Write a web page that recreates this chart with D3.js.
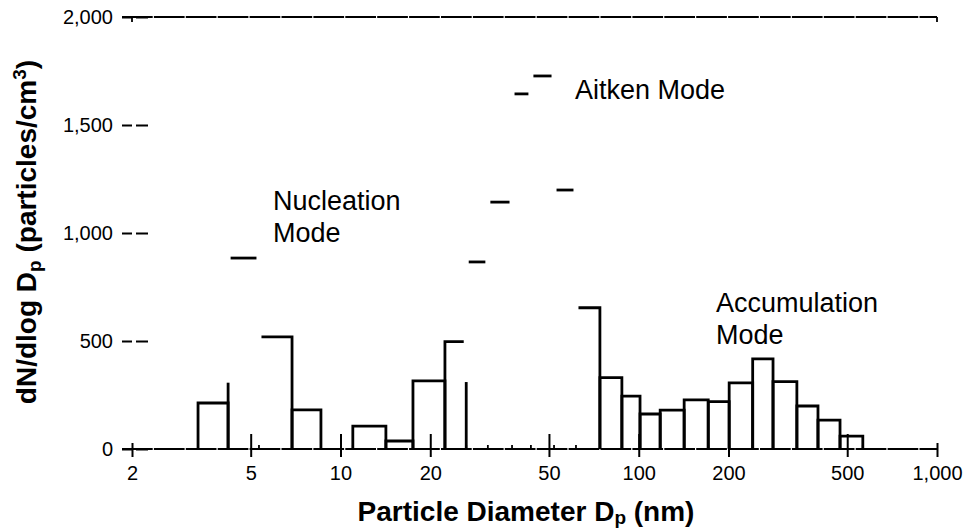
<!DOCTYPE html>
<html><head><meta charset="utf-8">
<script src="https://cdn.jsdelivr.net/npm/d3@7/dist/d3.min.js"></script>
<style>
body{margin:0;background:#fff}
svg{display:block}
text{font-family:"Liberation Sans",Arial,Helvetica,sans-serif;fill:#000}
</style>
</head><body>
<svg id="chart" width="964" height="531"></svg>
<script>
// ---- data ----
const binLower = [3.33,4.20,5.33,6.88,11.0,14.2,17.5,22.4,26.4,31.2,37.6,43.5,52.0,61.6,74.1,87.8,101,118,142,171,201,241,282,339,399,473];
const binUpper = [4.20,5.33,6.88,8.60,14.2,17.5,22.4,26.4,31.2,37.6,43.5,52.0,61.6,74.1,87.8,101,118,142,171,201,241,282,339,399,473,564];
const concentration = [213,884,519,181,106,37,315,497,866,1143,1644,1727,1199,654,330,245,162,180,227,219,306,417,312,199,134,60];
// which outline parts of each bar survive in the (partly erased) original: l = left, t = top, r = right
const visibleParts = ["ltr","t","tr","ltr","ltr","ltr","ltr","lt","t","t","t","t","t","tr",
                      "ltr","ltr","ltr","ltr","ltr","ltr","ltr","ltr","ltr","ltr","ltr","ltr"];
// stray edge fragments left in the original
const fragmentDiameter = [4.20, 26.4];
const fragmentHeight = [307, 310];

const xTickValues = [2,5,10,20,50,100,200,500,1000];
const xTickLabels = ["2","5","10","20","50","100","200","500","1,000"];
const yTickValues = [0,500,1000,1500,2000];
const yTickLabels = ["0","500","1,000","1,500","2,000"];

const modeLabels = [["Nucleation","Mode"],["Aitken Mode"],["Accumulation","Mode"]];

// ---- scales ----
const svg = d3.select("#chart");
const x = d3.scaleLog().domain([2,1000]).range([132,937]);
const y = d3.scaleLinear().domain([0,2000]).range([449,17]);
const leftX = 122;

// frame lines
svg.append("line").attr("x1",leftX).attr("x2",x(1000)).attr("y1",y(2000)).attr("y2",y(2000))
  .attr("stroke","#000").attr("stroke-width",2.2).attr("stroke-dasharray","30.7,1.2");
svg.append("line").attr("x1",leftX).attr("x2",x(1000)).attr("y1",y(0)).attr("y2",y(0))
  .attr("stroke","#000").attr("stroke-width",2.2).attr("stroke-dasharray","30.7,1.2");
// small ticks hanging from the top line
[2,1000].forEach(v=>{
  svg.append("line").attr("x1",x(v)).attr("x2",x(v)).attr("y1",y(2000)).attr("y2",y(2000)+5)
    .attr("stroke","#000").attr("stroke-width",1.8);
});

// y axis (ticks + labels, no spine)
const yAxis = d3.axisLeft(y).tickValues(yTickValues)
  .tickFormat((d,i)=>yTickLabels[i]).tickSizeInner(26).tickSizeOuter(0).tickPadding(9);
const gy = svg.append("g").attr("transform","translate(148,0)").call(yAxis);
gy.select(".domain").remove();
gy.selectAll(".tick line").attr("stroke","#000").attr("stroke-width",2).attr("stroke-dasharray","12,4,10");
gy.selectAll(".tick text").attr("font-size",20).attr("font-family","Liberation Sans, Arial, sans-serif").attr("fill","#000");

// minor ticks at every bin edge
const edges = Array.from(new Set(binLower.concat(binUpper))).sort((a,b)=>a-b);
svg.append("g").selectAll("line").data(edges).join("line")
  .attr("x1",d=>x(d)).attr("x2",d=>x(d)).attr("y1",y(0)-4).attr("y2",y(0))
  .attr("stroke","#000").attr("stroke-width",1.8);

// x axis
const xAxis = d3.axisBottom(x).tickValues(xTickValues)
  .tickFormat((d,i)=>xTickLabels[i]).tickSizeInner(8).tickSizeOuter(0).tickPadding(9);
const gx = svg.append("g").attr("transform",`translate(0,${y(0)})`).call(xAxis);
gx.select(".domain").remove();
gx.selectAll(".tick line").attr("stroke","#000").attr("stroke-width",2)
  .attr("y1",(d,i)=> (i===0||i===xTickValues.length-1) ? -6 : -15);
gx.selectAll(".tick text").attr("font-size",20).attr("font-family","Liberation Sans, Arial, sans-serif").attr("fill","#000");

// histogram bars
const bins = concentration.map((v,i)=>({lo:binLower[i],hi:binUpper[i],v,parts:visibleParts[i]}));
function barPath(b){
  const x0=x(b.lo), x1=x(b.hi), y0=y(0), yt=y(b.v);
  const L=b.parts.includes("l"), T=b.parts.includes("t"), R=b.parts.includes("r");
  const p=d3.path();
  if(L&&T&&R){p.moveTo(x0,y0);p.lineTo(x0,yt);p.lineTo(x1,yt);p.lineTo(x1,y0);return p.toString();}
  if(L){p.moveTo(x0,y0);p.lineTo(x0,yt);}
  if(T){
    const a = L ? x0 : x0+2.5, c = R ? x1 : x1-2.5;
    if(L){p.lineTo(c,yt);} else {p.moveTo(a,yt);p.lineTo(c,yt);}
    if(R){p.lineTo(x1,y0);}
  } else if(R){p.moveTo(x1,yt);p.lineTo(x1,y0);}
  return p.toString();
}
svg.append("g").selectAll("path").data(bins).join("path")
  .attr("d",barPath).attr("fill","none").attr("stroke","#000")
  .attr("stroke-width",2.8).attr("stroke-linejoin","miter").attr("stroke-linecap","butt");

// stray fragments
svg.append("g").selectAll("line").data(fragmentDiameter).join("line")
  .attr("x1",d=>x(d)).attr("x2",d=>x(d)).attr("y1",(d,i)=>y(fragmentHeight[i])).attr("y2",y(0))
  .attr("stroke","#000").attr("stroke-width",2.8);

// mode annotations
const annPos = [[273,210],[575,99],[716,312]];
modeLabels.forEach((lines,k)=>{
  const t = svg.append("text").attr("x",annPos[k][0]).attr("y",annPos[k][1]).attr("font-size",27);
  lines.forEach((s,j)=>t.append("tspan").attr("x",annPos[k][0]).attr("dy",j===0?0:31.5).text(s));
});

// axis titles
const xt = svg.append("text").attr("x",526).attr("y",521).attr("text-anchor","middle")
  .attr("font-size",28).attr("font-weight","bold");
xt.append("tspan").text("Particle Diameter D");
xt.append("tspan").attr("font-size",19).attr("dy",3).text("p");
xt.append("tspan").attr("dy",-3).text(" (nm)");

const yt = svg.append("text").attr("transform","translate(36,232) rotate(-90)").attr("text-anchor","middle")
  .attr("font-size",28).attr("font-weight","bold");
yt.append("tspan").text("dN/dlog D");
yt.append("tspan").attr("font-size",19).attr("dy",5).text("p");
yt.append("tspan").attr("dy",-5).text(" (particles/cm");
yt.append("tspan").attr("font-size",19).attr("dy",-10).text("3");
yt.append("tspan").attr("dy",10).text(")");
</script>
</body></html>
